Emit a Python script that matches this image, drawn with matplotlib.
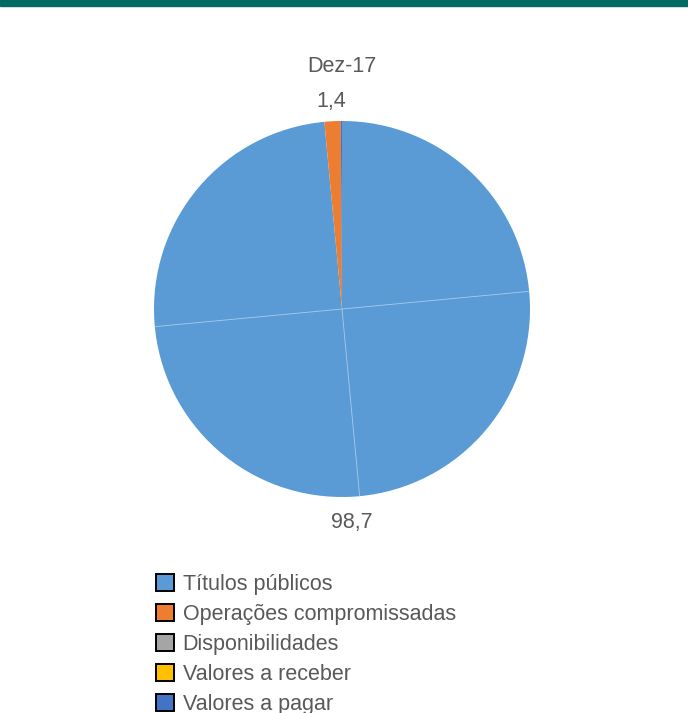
import numpy as np
import matplotlib
matplotlib.use("Agg")
import matplotlib.pyplot as plt
from matplotlib.patches import Patch, Rectangle

categories = ["Títulos públicos", "Operações compromissadas", "Disponibilidades",
              "Valores a receber", "Valores a pagar"]
values = [98.7, 1.4, 0.0, 0.0, 0.1]
value_labels = ["98,7", "1,4", "", "", ""]
colors = ["#5B9BD5", "#ED7D31", "#A5A5A5", "#FFC000", "#4472C4"]
title = "Dez-17"

plt.rcParams['font.family'] = ['Liberation Sans', 'DejaVu Sans']
TXT = "#595959"
FS = 15.5

W, H = 688, 713
fig = plt.figure(figsize=(W/100, H/100), dpi=100)

# top band
fig.patches.append(Rectangle((0, 1 - 6/H), 1, 6/H, transform=fig.transFigure,
                             color="#006A63", zorder=0))

cx, cy, r = 342, 309, 188
ax = fig.add_axes([(cx - r)/W, (H - cy - r)/H, 2*r/W, 2*r/H])
wedges, _ = ax.pie(values, colors=colors, startangle=90, counterclock=False,
                   radius=1.0, wedgeprops=dict(linewidth=0))
ax.set_xlim(-1, 1)
ax.set_ylim(-1, 1)
ax.set_aspect('equal')
ax.axis('off')

# faint segment seams of the large slice
w0 = wedges[0]
for k in range(1, 4):
    a = np.deg2rad(w0.theta1 + 90 * k)
    ax.plot([0, np.cos(a)], [0, np.sin(a)], color="#A9CBEA", lw=0.6, zorder=5)

# value labels
for w, lab in zip(wedges, value_labels):
    if not lab:
        continue
    a = np.deg2rad((w.theta1 + w.theta2) / 2)
    d = 1.135 if np.sin(a) < 0 else 1.103
    ax.text(d*np.cos(a), d*np.sin(a), lab, ha='center', va='center',
            fontsize=FS, color=TXT, clip_on=False)

fig.text(cx / W, 1 - 66 / H, title, ha='center', va='center', fontsize=FS, color=TXT)

handles = [Patch(facecolor=c, edgecolor="black", linewidth=1.4) for c in colors]
fig.legend(handles, categories, loc='upper left',
           bbox_to_anchor=(156 / W, 1 - 574 / H), frameon=False,
           fontsize=FS, labelcolor=TXT, handlelength=0.82, handleheight=0.82,
           handletextpad=0.42, labelspacing=0.42, borderpad=0, borderaxespad=0)

fig.savefig("out.png", dpi=100)
